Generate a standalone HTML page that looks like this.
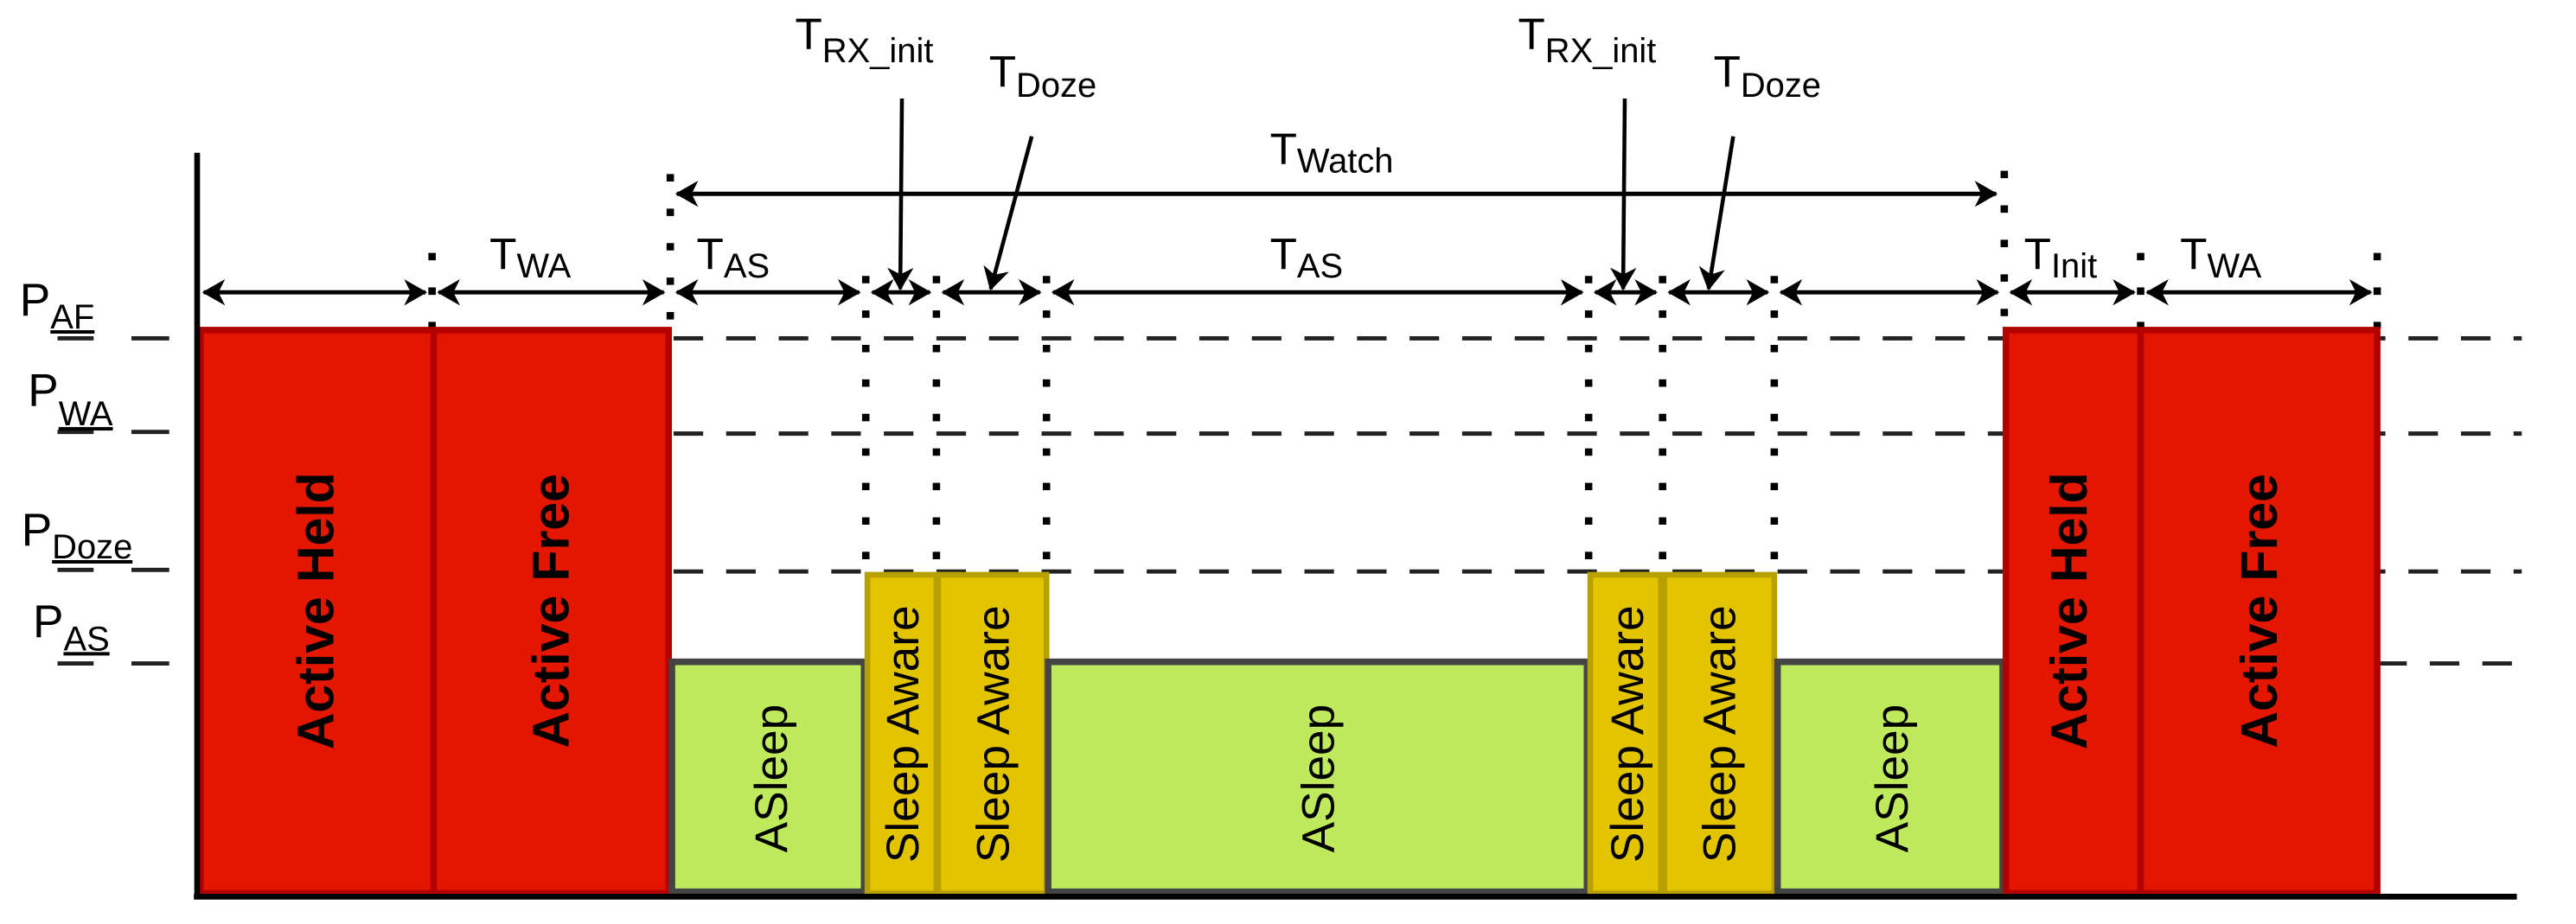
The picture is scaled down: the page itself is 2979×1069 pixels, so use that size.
<!DOCTYPE html>
<html><head><meta charset="utf-8"><style>
html,body{margin:0;padding:0;background:#fff;}
svg{display:block;}
text{font-family:"Liberation Sans Narrow","Liberation Sans",sans-serif;fill:#000;}
.bt{font-family:"Liberation Sans",sans-serif;}
</style></head><body>
<svg width="2979" height="1069" viewBox="0 0 1568 562.63" xmlns="http://www.w3.org/2000/svg">
<defs>
<marker id="ah" viewBox="0 0 14 16" refX="13" refY="8" markerWidth="14" markerHeight="16" markerUnits="userSpaceOnUse" orient="auto-start-reverse">
<path d="M0,0 L14,8 L0,16 L4,8 Z" fill="#000"/>
</marker>
</defs>

<!-- dashed level lines -->
<g stroke="#222" stroke-width="2.6" stroke-dasharray="18,14" fill="none">
<line x1="410" y1="206" x2="1535" y2="206"/>
<line x1="410" y1="264" x2="1535" y2="264"/>
<line x1="410" y1="348" x2="1535" y2="348"/>
<line x1="1447" y1="404" x2="1535" y2="404"/>
</g>
<g stroke="#222" stroke-width="2.6">
<line x1="35" y1="206" x2="57" y2="206"/><line x1="80" y1="206" x2="103" y2="206"/>
<line x1="35" y1="263" x2="57" y2="263"/><line x1="80" y1="263" x2="103" y2="263"/>
<line x1="35" y1="347" x2="57" y2="347"/><line x1="80" y1="347" x2="103" y2="347"/>
<line x1="35" y1="404" x2="57" y2="404"/><line x1="80" y1="404" x2="103" y2="404"/>
</g>

<!-- dotted verticals -->
<g stroke="#000" stroke-width="4.5" stroke-dasharray="4.5,16.5" fill="none">
<line x1="263" y1="154" x2="263" y2="200"/>
<line x1="408" y1="106" x2="408" y2="200"/>
<line x1="527" y1="168" x2="527" y2="350"/>
<line x1="570" y1="168" x2="570" y2="350"/>
<line x1="637" y1="168" x2="637" y2="350"/>
<line x1="967" y1="168" x2="967" y2="350"/>
<line x1="1012" y1="168" x2="1012" y2="350"/>
<line x1="1080" y1="168" x2="1080" y2="350"/>
<line x1="1220" y1="104" x2="1220" y2="200"/>
<line x1="1303" y1="154" x2="1303" y2="200"/>
<line x1="1447" y1="154" x2="1447" y2="200"/>
</g>

<!-- bars -->
<rect x="122" y="201" width="285" height="343" fill="#e31600" stroke="#b30000" stroke-width="4"/>
<line x1="264" y1="201" x2="264" y2="544" stroke="#b30000" stroke-width="4"/>
<rect x="409" y="403" width="117" height="140" fill="#c0ea5e" stroke="#444" stroke-width="4"/>
<rect x="528" y="350" width="42" height="194" fill="#e3c400" stroke="#b8a000" stroke-width="3.5"/>
<rect x="571" y="350" width="66" height="194" fill="#e3c400" stroke="#b8a000" stroke-width="3.5"/>
<rect x="638" y="403" width="328" height="140" fill="#c0ea5e" stroke="#444" stroke-width="4"/>
<rect x="968" y="350" width="43" height="194" fill="#e3c400" stroke="#b8a000" stroke-width="3.5"/>
<rect x="1013" y="350" width="67" height="194" fill="#e3c400" stroke="#b8a000" stroke-width="3.5"/>
<rect x="1082" y="403" width="137" height="140" fill="#c0ea5e" stroke="#444" stroke-width="4"/>
<rect x="1221" y="201" width="226" height="343" fill="#e31600" stroke="#b30000" stroke-width="4"/>
<line x1="1303" y1="201" x2="1303" y2="544" stroke="#b30000" stroke-width="4"/>

<!-- axes -->
<line x1="120" y1="93" x2="120" y2="547" stroke="#000" stroke-width="3.5"/>
<line x1="118" y1="546" x2="1532" y2="546" stroke="#000" stroke-width="3.5"/>

<!-- bar labels -->
<g class="bt" font-size="31" font-weight="bold">
<text class="bt" transform="translate(203,372) rotate(-90)" text-anchor="middle">Active Held</text>
<text class="bt" transform="translate(346,372) rotate(-90)" text-anchor="middle">Active Free</text>
<text class="bt" transform="translate(1270,372) rotate(-90)" text-anchor="middle">Active Held</text>
<text class="bt" transform="translate(1386,372) rotate(-90)" text-anchor="middle">Active Free</text>
</g>
<g font-size="28">
<text class="bt" transform="translate(479,474) rotate(-90)" text-anchor="middle">ASleep</text>
<text class="bt" transform="translate(812,474) rotate(-90)" text-anchor="middle">ASleep</text>
<text class="bt" transform="translate(1161,474) rotate(-90)" text-anchor="middle">ASleep</text>
<text class="bt" transform="translate(559,447) rotate(-90)" text-anchor="middle">Sleep Aware</text>
<text class="bt" transform="translate(614,447) rotate(-90)" text-anchor="middle">Sleep Aware</text>
<text class="bt" transform="translate(1000,447) rotate(-90)" text-anchor="middle">Sleep Aware</text>
<text class="bt" transform="translate(1056,447) rotate(-90)" text-anchor="middle">Sleep Aware</text>
</g>

<!-- timing arrows -->
<g stroke="#000" stroke-width="2.6" marker-start="url(#ah)" marker-end="url(#ah)">
<line x1="124" y1="178" x2="259" y2="178"/>
<line x1="267" y1="178" x2="404" y2="178"/>
<line x1="412" y1="178" x2="523" y2="178"/>
<line x1="531" y1="178" x2="566" y2="178"/>
<line x1="574" y1="178" x2="633" y2="178"/>
<line x1="641" y1="178" x2="963" y2="178"/>
<line x1="971" y1="178" x2="1008" y2="178"/>
<line x1="1016" y1="178" x2="1076" y2="178"/>
<line x1="1084" y1="178" x2="1216" y2="178"/>
<line x1="1224" y1="178" x2="1299" y2="178"/>
<line x1="1307" y1="178" x2="1443" y2="178"/>
<line x1="412" y1="118" x2="1215" y2="118"/>
</g>
<g stroke="#000" stroke-width="2.4" marker-end="url(#ah)">
<line x1="549" y1="60" x2="548" y2="176"/>
<line x1="628" y1="83" x2="603" y2="176"/>
<line x1="989" y1="60" x2="988" y2="176"/>
<line x1="1055" y1="83" x2="1040" y2="176"/>
</g>

<!-- T labels -->
<g font-size="27">
<text x="298" y="164">T<tspan font-size="21" dy="5">WA</tspan></text>
<text x="424" y="164">T<tspan font-size="21" dy="5">AS</tspan></text>
<text x="773" y="164">T<tspan font-size="21" dy="5">AS</tspan></text>
<text x="1232" y="164">T<tspan font-size="21" dy="5">Init</tspan></text>
<text x="1327" y="164">T<tspan font-size="21" dy="5">WA</tspan></text>
<text x="773" y="100">T<tspan font-size="21" dy="5">Watch</tspan></text>
<text x="484" y="30">T<tspan font-size="21" dy="8">RX_init</tspan></text>
<text x="602" y="53">T<tspan font-size="21" dy="6">Doze</tspan></text>
<text x="924" y="30">T<tspan font-size="21" dy="8">RX_init</tspan></text>
<text x="1043" y="53">T<tspan font-size="21" dy="6">Doze</tspan></text>
</g>
<!-- P labels -->
<g font-size="28">
<text class="bt" x="12" y="192">P<tspan font-size="21" dy="8" text-decoration="underline">AF</tspan></text>
<text class="bt" x="17" y="247">P<tspan font-size="21" dy="12" text-decoration="underline">WA</tspan></text>
<text class="bt" x="13" y="332">P<tspan font-size="21" dy="8" text-decoration="underline">Doze</tspan></text>
<text class="bt" x="20" y="388">P<tspan font-size="21" dy="8" text-decoration="underline">AS</tspan></text>
</g>
</svg>
</body></html>
